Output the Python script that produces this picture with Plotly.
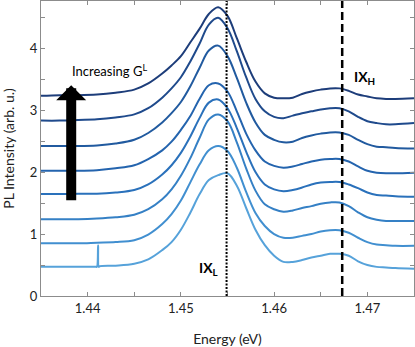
import plotly.graph_objects as go

# ---------------------------------------------------------
# Data
# ---------------------------------------------------------
energy = [1.435, 1.437, 1.439, 1.441, 1.443, 1.445, 1.4465, 1.448, 1.449, 1.450,
          1.451, 1.452, 1.453, 1.454, 1.455, 1.456, 1.457, 1.458, 1.459, 1.460,
          1.461, 1.462, 1.463, 1.464, 1.465, 1.466, 1.467, 1.468, 1.469, 1.470,
          1.471, 1.472, 1.473, 1.475]

pl_1 = [3.23, 3.24, 3.24, 3.25, 3.28, 3.33, 3.43, 3.59, 3.72, 3.87,
        4.09, 4.31, 4.55, 4.66, 4.52, 4.16, 3.78, 3.46, 3.27, 3.20,
        3.19, 3.20, 3.26, 3.30, 3.33, 3.35, 3.35, 3.31, 3.25, 3.22,
        3.19, 3.18, 3.18, 3.19]
pl_2 = [2.83, 2.83, 2.84, 2.85, 2.88, 2.93, 3.03, 3.20, 3.35, 3.53,
        3.78, 4.07, 4.38, 4.49, 4.32, 3.95, 3.53, 3.18, 2.98, 2.89,
        2.87, 2.91, 2.95, 2.98, 3.01, 3.03, 3.03, 2.98, 2.89, 2.82,
        2.79, 2.77, 2.77, 2.79]
pl_3 = [2.42, 2.42, 2.42, 2.43, 2.46, 2.52, 2.63, 2.80, 2.95, 3.13,
        3.38, 3.68, 3.96, 4.04, 3.87, 3.52, 3.12, 2.80, 2.60, 2.52,
        2.48, 2.49, 2.55, 2.59, 2.62, 2.64, 2.64, 2.60, 2.52, 2.45,
        2.41, 2.40, 2.39, 2.38]
pl_4 = [2.02, 2.02, 2.02, 2.03, 2.06, 2.11, 2.21, 2.35, 2.49, 2.68,
        2.90, 3.18, 3.40, 3.43, 3.30, 2.98, 2.62, 2.35, 2.17, 2.10,
        2.07, 2.09, 2.13, 2.17, 2.20, 2.21, 2.21, 2.17, 2.09, 2.02,
        1.99, 1.98, 1.98, 1.99]
pl_5 = [1.645, 1.645, 1.65, 1.65, 1.67, 1.71, 1.80, 1.96, 2.11, 2.31,
        2.57, 2.87, 3.12, 3.17, 3.03, 2.71, 2.33, 2.00, 1.80, 1.72,
        1.69, 1.71, 1.75, 1.80, 1.83, 1.84, 1.84, 1.80, 1.74, 1.67,
        1.63, 1.62, 1.61, 1.60]
pl_6 = [1.24, 1.24, 1.24, 1.25, 1.27, 1.31, 1.40, 1.56, 1.72, 1.94,
        2.22, 2.55, 2.85, 2.93, 2.82, 2.48, 2.06, 1.70, 1.48, 1.40,
        1.36, 1.38, 1.42, 1.45, 1.49, 1.51, 1.51, 1.45, 1.35, 1.27,
        1.23, 1.21, 1.21, 1.21]
pl_7 = [0.85, 0.85, 0.85, 0.86, 0.87, 0.90, 0.99, 1.16, 1.32, 1.54,
        1.83, 2.12, 2.35, 2.42, 2.34, 2.07, 1.68, 1.34, 1.13, 1.00,
        0.94, 0.94, 0.97, 1.00, 1.04, 1.06, 1.06, 1.02, 0.94, 0.87,
        0.83, 0.82, 0.81, 0.81]

# lowest spectrum has a narrow spike near 1.4411 eV
energy_8 = [1.435, 1.437, 1.439, 1.4409, 1.4410, 1.44112, 1.4412, 1.4413, 1.443,
            1.445, 1.4465, 1.448, 1.449, 1.450, 1.451, 1.452, 1.453, 1.454, 1.455,
            1.456, 1.457, 1.458, 1.459, 1.460, 1.461, 1.462, 1.463, 1.464, 1.465,
            1.466, 1.467, 1.468, 1.469, 1.470, 1.471, 1.472, 1.473, 1.475]
pl_8 = [0.47, 0.47, 0.47, 0.47, 0.47, 0.82, 0.47, 0.48, 0.49,
        0.52, 0.59, 0.74, 0.87, 1.07, 1.34, 1.64, 1.87, 1.95, 1.98,
        1.78, 1.42, 1.07, 0.82, 0.65, 0.55, 0.55, 0.58, 0.62, 0.65,
        0.68, 0.68, 0.65, 0.56, 0.50, 0.47, 0.46, 0.45, 0.44]

spectra = [
    (energy, pl_1, "#1d3d7a"),
    (energy, pl_2, "#1f4a8c"),
    (energy, pl_3, "#215a9f"),
    (energy, pl_4, "#2464ae"),
    (energy, pl_5, "#2a71bb"),
    (energy, pl_6, "#3580c5"),
    (energy, pl_7, "#418fd0"),
    (energy_8, pl_8, "#56a2da"),
]

ix_l_energy = 1.4549
ix_h_energy = 1.4673

x_tickvals = [1.435, 1.44, 1.445, 1.45, 1.455, 1.46, 1.465, 1.47, 1.475]
x_ticktext = ["", "1.44", "", "1.45", "", "1.46", "", "1.47", ""]
y_tickvals = [0, 0.5, 1, 1.5, 2, 2.5, 3, 3.5, 4, 4.5]
y_ticktext = ["0", "", "1", "", "2", "", "3", "", "4", ""]

FONT = "Lato, Carlito, Calibri, sans-serif"
AXIS_GREY = "#8c8c8c"

fig = go.Figure()

for xs, ys, col in spectra:
    fig.add_trace(
        go.Scatter(
            x=xs,
            y=ys,
            mode="lines",
            line=dict(color=col, width=2, shape="spline", smoothing=1),
            showlegend=False,
        )
    )

# marker lines for the two exciton peaks
fig.add_vline(x=ix_l_energy, line=dict(color="black", width=2, dash="2px,1.5px"))
fig.add_vline(x=ix_h_energy, line=dict(color="black", width=2.5, dash="8px,4px"))

# arrow + labels
fig.add_annotation(
    x=1.43824, y=3.40, ax=1.43824, ay=1.52,
    xref="x", yref="y", axref="x", ayref="y",
    text="", showarrow=True,
    arrowhead=1, arrowwidth=10, arrowsize=0.5, arrowcolor="black",
)
fig.add_annotation(
    x=1.43810, y=3.64, xref="x", yref="y",
    text="Increasing G<sup>L</sup>", showarrow=False,
    xanchor="left", yanchor="middle",
    font=dict(family=FONT, size=13, color="black"),
)
fig.add_annotation(
    x=1.4684, y=3.52, xref="x", yref="y",
    text="<b>IX<sub>H</sub></b>", showarrow=False,
    xanchor="left", yanchor="middle",
    font=dict(family=FONT, size=14, color="black"),
)
fig.add_annotation(
    x=1.4517, y=0.45, xref="x", yref="y",
    text="<b>IX<sub>L</sub></b>", showarrow=False,
    xanchor="left", yanchor="middle",
    font=dict(family=FONT, size=14, color="black"),
)

fig.update_layout(
    width=415,
    height=347,
    autosize=False,
    margin=dict(l=41, r=1, t=1, b=51),
    plot_bgcolor="white",
    paper_bgcolor="white",
    font=dict(family=FONT, size=13, color="#222222"),
    showlegend=False,
)

fig.update_xaxes(
    range=[1.435, 1.475],
    tickvals=x_tickvals,
    ticktext=x_ticktext,
    ticks="inside",
    ticklen=4,
    tickcolor=AXIS_GREY,
    showline=True,
    linecolor=AXIS_GREY,
    linewidth=1,
    mirror="ticks",
    showgrid=False,
    zeroline=False,
    title=dict(text="Energy (eV)", font=dict(family=FONT, size=14, color="#222222"), standoff=21),
)
fig.update_yaxes(
    range=[0, 4.76],
    tickvals=y_tickvals,
    ticktext=y_ticktext,
    ticks="inside",
    ticklen=4,
    tickcolor=AXIS_GREY,
    showline=True,
    linecolor=AXIS_GREY,
    linewidth=1,
    mirror="ticks",
    showgrid=False,
    zeroline=False,
    title=dict(text="PL Intensity (arb. u.)", font=dict(family=FONT, size=14, color="#222222"), standoff=11),
)

fig.write_html(
    "out.html",
    config={"responsive": False, "displayModeBar": False},
    post_script="document.body.style.margin='0px';",
)
